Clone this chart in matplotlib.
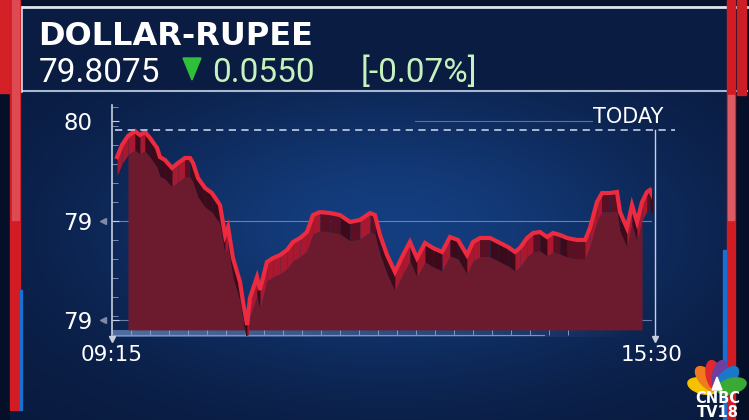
import numpy as np
import matplotlib.pyplot as plt
from matplotlib.patches import Rectangle, Polygon, Ellipse
from matplotlib.ticker import MultipleLocator, FixedLocator

# intraday USD/INR, minutes after 09:15
times = [3.5, 6.9, 11.1, 16.0, 19.4, 22.9, 26.4, 31.3, 33.3, 36.8,
         41.7, 45.8, 50.7, 54.2, 56.3, 59.7, 64.6, 69.4, 75.0, 78.5,
         80.6, 84.0, 88.9, 91.0, 93.8, 95.8, 100.7, 102.8, 107.6, 111.8,
         116.7, 121.5, 125.7, 130.6, 135.4, 139.6, 144.4, 151.4, 158.3, 165.3,
         172.2, 179.2, 182.6, 186.1, 191.0, 196.5, 202.1, 206.9, 211.8, 217.4,
         222.9, 229.2, 234.7, 240.3, 246.5, 250.7, 255.6, 262.5, 268.1, 275.0,
         279.9, 283.3, 288.2, 292.4, 297.2, 302.1, 306.3, 311.1, 316.0, 322.9,
         328.5, 331.9, 336.8, 340.3, 345.8, 350.7, 352.8, 357.6, 361.1, 364.6,
         368.1, 371.5, 373.6, 375.7]
prices = [79.8394, 79.8496, 79.8573, 79.8615, 79.8581, 79.8607, 79.8556, 79.8471, 79.8394, 79.8369,
          79.8301, 79.8343, 79.8386, 79.8386, 79.8343, 79.8216, 79.8131, 79.8088, 79.7986, 79.7731,
          79.7799, 79.7535, 79.7332, 79.7162, 79.6966, 79.7196, 79.7374, 79.7264, 79.7502, 79.7535,
          79.7561, 79.7604, 79.7672, 79.7706, 79.7757, 79.7901, 79.7926, 79.7918, 79.7901, 79.7842,
          79.7859, 79.7918, 79.7901, 79.7731, 79.7561, 79.7417, 79.7561, 79.7672, 79.7535, 79.7663,
          79.7621, 79.7587, 79.7714, 79.7689, 79.7561, 79.7672, 79.7706, 79.7706, 79.7672, 79.7629,
          79.7587, 79.7621, 79.7706, 79.7748, 79.7757, 79.7714, 79.7748, 79.7731, 79.7706, 79.7689,
          79.7689, 79.7791, 79.8012, 79.8088, 79.8088, 79.8097, 79.7926, 79.7791, 79.7986, 79.7842,
          79.8012, 79.8097, 79.8114, 79.8054]
prev_close = 79.8625
ytick_vals = [79.870, 79.785, 79.701]
ytick_labels = ['80', '79', '79']
xtick_vals = [0, 375]
xtick_labels = ['09:15', '15:30']

title = 'DOLLAR-RUPEE'
last_price = '79.8075'
change = '0.0550'
change_pct = '[-0.07%]'

W, H = 749, 420
fig = plt.figure(figsize=(W / 100, H / 100), dpi=100)

# ---- background / frame in pixel coords
bg = fig.add_axes([0, 0, 1, 1], zorder=0)
bg.set_xlim(0, W)
bg.set_ylim(H, 0)
bg.axis('off')

yy, xx = np.mgrid[0:H, 0:W]
w = np.exp(-(((xx - 390) / 300.0) ** 2 + ((yy - 230) / 150.0) ** 2))
base = np.array([9, 25, 60]) / 255
bright = np.array([20, 62, 128]) / 255
img = base[None, None, :] * (1 - w[..., None]) + bright[None, None, :] * w[..., None]
img[yy < 92] = np.array([10, 28, 66]) / 255
img[yy < 7] = np.array([6, 18, 46]) / 255
img[(xx < 10) | (xx > 735)] = np.array([5, 15, 40]) / 255
bg.imshow(img, extent=(0, W, H, 0), aspect='auto', zorder=0)

# lighter band under the x axis, fading to the right
fade = np.linspace(0.9, 0, 200)[None, :]
band = np.dstack([np.full((1, 200), 0.35), np.full((1, 200), 0.47),
                  np.full((1, 200), 0.68), fade])
bg.imshow(band, extent=(112, 640, 337, 330), aspect='auto', zorder=1)

# header
bg.plot([20, 747], [7, 7], color='#dfe6f0', lw=2, zorder=2)
bg.plot([20, 747], [91, 91], color='#a9b8d2', lw=1.5, zorder=2)
bg.plot([21, 21], [7, 91], color='#e8edf5', lw=1.8, zorder=2)

# side bars
bg.add_patch(Rectangle((0, 0), 10, 93, color='#d42027', zorder=3))
bg.add_patch(Rectangle((10, 0), 10, 410, color='#d01c22', zorder=3))
bg.add_patch(Rectangle((12, 0), 7, 220, color='#de4a52', zorder=3))
bg.add_patch(Rectangle((20, 290), 2, 120, color='#1a6fd0', zorder=3))
bg.add_patch(Rectangle((727, 0), 8, H, color='#d01c22', zorder=3))
bg.add_patch(Rectangle((728, 95), 6, 125, color='#dc5a62', zorder=3))
bg.add_patch(Rectangle((737, 0), 9, 95, color='#cc1e26', zorder=3))
bg.add_patch(Rectangle((723, 250), 3, H - 250, color='#1a6fd0', zorder=3))

# header texts
bg.text(38, 45, title, color='white', fontsize=23, fontweight='bold',
        family='DejaVu Sans', va='baseline', ha='left', zorder=4)
bg.text(39, 82, last_price, color='white', fontsize=24, family='Roboto',
        va='baseline', ha='left', zorder=4)
bg.add_patch(Polygon([[183, 58], [201, 58], [192, 80]], closed=True,
                     color='#2fbf3a', zorder=4))
bg.text(212, 82, change, color='#c6f2bd', fontsize=24, family='Roboto',
        va='baseline', ha='left', zorder=4)
bg.text(361, 82, change_pct, color='#c6f2bd', fontsize=24, family='Roboto',
        va='baseline', ha='left', zorder=4)

# TODAY label
bg.plot([415, 592], [121, 121], color='#5d7299', lw=0.8, zorder=2)
bg.text(593, 123, 'TODAY', color='white', fontsize=15, family='DejaVu Sans',
        va='baseline', ha='left', zorder=4)

# CNBC TV18 logo
feather_angles = [165, 132, 102, 78, 48, 15]
feather_colors = ['#f6c200', '#f07a1e', '#e0282f', '#6d3fa0', '#1a78c8', '#3aaa35']
bx, by = 717, 390
for ang, col in zip(feather_angles, feather_colors):
    r = np.radians(ang)
    cx, cy = bx + 15 * np.cos(r), by - 15 * np.sin(r)
    bg.add_patch(Ellipse((cx, cy), 30, 15, angle=-ang, color=col, zorder=4))
bg.add_patch(Polygon([[bx - 5, by], [bx + 5, by], [bx, by - 13]], color='white', zorder=5))
bg.text(718, 417, 'CNBC\nTV18', color='white', fontsize=10.5, fontweight='bold',
        family='DejaVu Sans', ha='center', va='baseline', multialignment='center',
        linespacing=0.92, zorder=5)

# ---- chart axes
ax = fig.add_axes([112 / W, (H - 335) / H, 540 / W, 235 / H], zorder=1)
ax.patch.set_alpha(0)
ax.set_xlim(0, 375)
ax.set_ylim(79.6881, 79.8879)

t = np.array(times)
p = np.array(prices)
off = 0.016
floor = 79.6924

for yv in ytick_vals[1:]:
    ax.plot([0, 375], [yv, yv], color='#6b80a8', lw=0.8, zorder=1)

face = (t >= 9) & (t <= 370)
ax.fill_between(t, floor, p - off, where=face, color='#6c1b2f', lw=0, zorder=2)

for i in range(len(t) - 1):
    d = p[i + 1] - p[i]
    if d > 0.002:
        col = '#a8182e'
    elif d < -0.002:
        col = '#3c0a18'
    else:
        col = '#5a1022'
    ax.fill_between(t[i:i + 2], p[i:i + 2], p[i:i + 2] - off, color=col, lw=0, zorder=3)

ax.plot(t, p, color='#ec2a40', lw=3, solid_joinstyle='miter', zorder=4)

ax.axhline(prev_close, xmin=0.006, xmax=1.043, color='#b8c2d6', lw=1.3,
           ls=(0, (4, 3)), clip_on=False, zorder=5)
ax.axvline(377, ymin=-0.02, ymax=0.872, color='#c8d0e0', lw=1, clip_on=False, zorder=5)
ax.plot([377], [79.6845], marker='v', color='#c8d0e0', ms=4, clip_on=False, zorder=5)
ax.plot([0], [79.6845], marker='v', color='#c8d0e0', ms=4, clip_on=False, zorder=5)
ax.plot([-6, -6], ytick_vals[1:], marker='<', ls='none', color='#7f8aa3', ms=5,
        clip_on=False, zorder=5)

for s in ['top', 'right']:
    ax.spines[s].set_visible(False)
ax.spines['left'].set_color('#c8d0e0')
ax.spines['left'].set_linewidth(1.2)
ax.spines['left'].set_bounds(79.6845, 79.8836)
ax.spines['bottom'].set_color('#7e93bb')
ax.spines['bottom'].set_linewidth(0.8)
ax.spines['bottom'].set_bounds(0, 300)

ax.set_yticks(ytick_vals, ytick_labels)
ax.set_xticks(xtick_vals, xtick_labels)
ax.yaxis.set_minor_locator(MultipleLocator(0.0162))
ax.xaxis.set_minor_locator(FixedLocator(np.arange(13.2, 320, 13.2)))
ax.tick_params(axis='y', which='major', direction='in', length=5, color='#c8d0e0',
               labelcolor='white', labelsize=16.5, pad=14)
ax.tick_params(axis='y', which='minor', direction='in', length=4, color='#8f9cb8')
ax.tick_params(axis='x', which='major', length=0, labelcolor='white',
               labelsize=15.5, pad=7)
ax.tick_params(axis='x', which='minor', direction='in', length=5, color='#8fa8d0')

plt.savefig('out.png', dpi=100)
